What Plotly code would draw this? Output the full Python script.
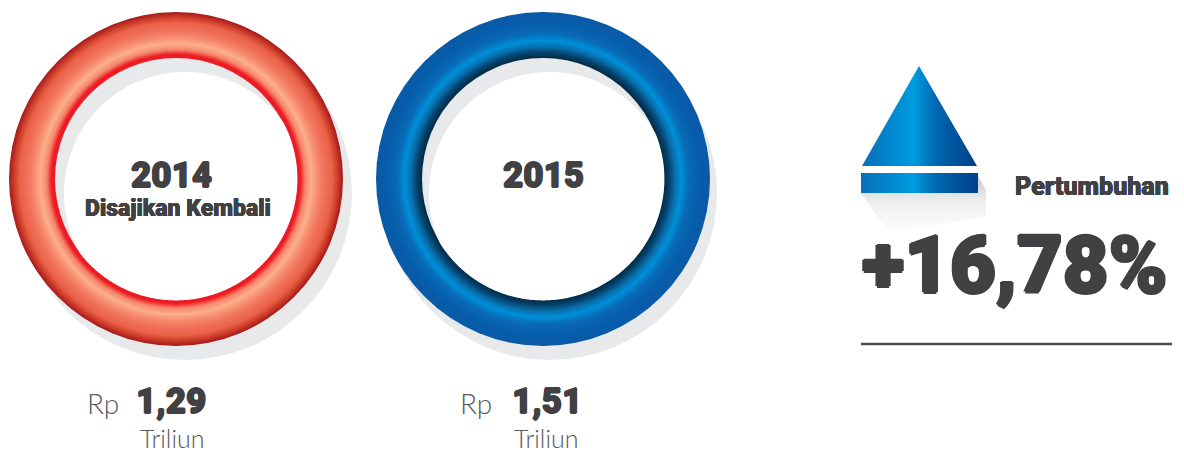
import numpy as np
import plotly.graph_objects as go

W, H = 1184, 455
DARK = "#414042"
LIGHT = "#58595b"
SHADOW = "#e8e9ea"

years = ["2014", "2015"]
year_notes = ["Disajikan Kembali", ""]
amounts = ["1,29", "1,51"]
currency = "Rp"
unit = "Triliun"
growth_label = "Pertumbuhan"
growth_value = "+16,78%"

ring_centres = [(176, 179), (543, 179)]
shadow_centres = [(185, 193), (550, 193)]
R_OUT, R_IN = 167, 121

red_stops = [(121, "#ed1c24"), (125, "#ed1c24"), (130, "#f6876c"), (136, "#fcb08c"),
             (143, "#f68a6c"), (150, "#f0705a"), (157, "#ea6248"), (162, "#d0402c"), (167, "#a81e1e")]
blue_stops = [(121, "#04293f"), (127, "#06436c"), (133, "#0a70ae"), (139, "#0090d8"),
              (146, "#0a6cb8"), (155, "#0860ae"), (167, "#0b5aa6")]


def rgb(h):
    return [int(h[i:i + 2], 16) for i in (1, 3, 5)]


def blend(stops, r):
    rs = [s[0] for s in stops]
    cs = np.array([rgb(s[1]) for s in stops])
    return "rgb(%d,%d,%d)" % tuple(np.interp(r, rs, cs[:, k]) for k in range(3))


shapes = []


def circle(cx, cy, r, fill):
    shapes.append(dict(type="circle", xref="x", yref="y", x0=cx - r, x1=cx + r, y0=cy - r, y1=cy + r,
                       fillcolor=fill, line=dict(width=0), layer="below"))


def lens(c1, r1, c2, r2):
    """Outline of the overlap of two discs, as a path."""
    mx, my = (c1[0] + c2[0]) / 2, (c1[1] + c2[1]) / 2
    pts = []
    for a in np.radians(np.arange(0, 360, 0.5)):
        dx, dy = np.cos(a), np.sin(a)
        best = 1e9
        for (cx, cy), r in ((c1, r1), (c2, r2)):
            ox, oy = mx - cx, my - cy
            b = ox * dx + oy * dy
            best = min(best, -b + np.sqrt(b * b - (ox * ox + oy * oy - r * r)))
        pts.append((mx + best * dx, my + best * dy))
    return "M" + "L".join("%.2f,%.2f" % p for p in pts) + "Z"


for c, s, stops in zip(ring_centres, shadow_centres, [red_stops, blue_stops]):
    circle(s[0], s[1], R_OUT, SHADOW)
    for r in np.arange(R_OUT, R_IN, -1.0):
        circle(c[0], c[1], r, blend(stops, r))
    circle(c[0], c[1], R_IN, SHADOW)
    shapes.append(dict(type="path", xref="x", yref="y", path=lens(c, R_IN + 0.4, s, R_IN),
                       fillcolor="#ffffff", line=dict(width=0), layer="below"))

fig = go.Figure()

blue_scale = [[0, "#0a6fb8"], [0.25, "#0088d0"], [0.45, "#009bdf"], [0.65, "#0066ae"], [1, "#003f88"]]

# soft shadow under the arrow
fig.add_trace(go.Scatter(x=[861, 978, 986, 986, 890], y=[193, 176, 190, 216, 234], mode="lines",
                         fill="toself", line=dict(width=0), hoverinfo="skip",
                         fillgradient=dict(type="vertical", colorscale=[[0, "#ffffff"], [0.55, "#eeeeef"], [1, "#c9cacc"]])))
# arrow head and bar
fig.add_trace(go.Scatter(x=[862, 919, 977, 862], y=[166, 66, 166, 166], mode="lines", fill="toself",
                         line=dict(width=0), hoverinfo="skip",
                         fillgradient=dict(type="horizontal", colorscale=blue_scale)))
fig.add_trace(go.Scatter(x=[861, 978, 978, 861, 861], y=[173, 173, 193, 193, 173], mode="lines", fill="toself",
                         line=dict(width=0), hoverinfo="skip",
                         fillgradient=dict(type="horizontal", colorscale=blue_scale)))
# rule
fig.add_trace(go.Scatter(x=[861, 1172], y=[344, 344], mode="lines", line=dict(color="#4d4d4f", width=2.6), hoverinfo="skip"))


def heavy(px):
    return ", ".join("%gpx %gpx 0 %s" % (a * px, b * px, DARK) for a, b in ((1, 0), (-1, 0), (0, 1), (0, -1)))


def text(x, y, s, size, color=DARK, anchor="center", family="Roboto", weight=900, bold=0.0):
    font = dict(family=family, size=size, color=color, weight=weight)
    if bold:
        font["shadow"] = heavy(bold)
    fig.add_annotation(x=x, y=y, text=s, showarrow=False, xanchor=anchor, yanchor="middle", font=font)


text(171, 175, years[0], 35, bold=0.7)
text(178, 208, year_notes[0], 23, bold=0.3)
text(543, 175, years[1], 35, bold=0.7)
text(171, 401, amounts[0], 35, bold=0.7)
text(547, 401, amounts[1], 35, bold=0.7)
text(103, 403, currency, 28, LIGHT, family="Lato", weight=300)
text(476, 403, currency, 28, LIGHT, family="Lato", weight=300)
text(172, 438, unit, 25, LIGHT, family="Lato", weight=300)
text(546, 438, unit, 25, LIGHT, family="Lato", weight=300)
text(1171, 186, growth_label, 25, anchor="right", bold=0.3)
text(1014, 265, growth_value, 79, bold=1.5)

fig.update_layout(width=W, height=H, margin=dict(l=0, r=0, t=0, b=0), showlegend=False,
                  paper_bgcolor="white", plot_bgcolor="white", shapes=shapes,
                  xaxis=dict(range=[0, W], visible=False, fixedrange=True),
                  yaxis=dict(range=[H, 0], visible=False, fixedrange=True))

fig.write_html("out.html", config=dict(displayModeBar=False),
               post_script="document.body.style.margin='0';")
